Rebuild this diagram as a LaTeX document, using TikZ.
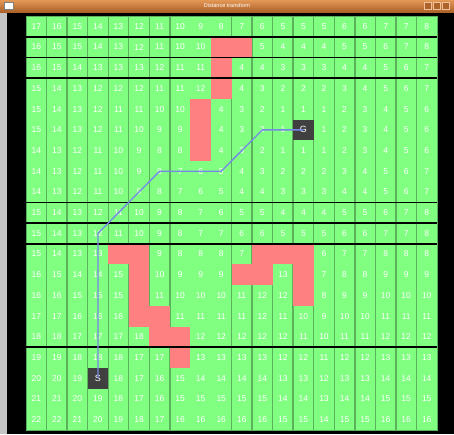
\documentclass[tikz,border=0pt]{standalone}
\usepackage{fontspec}
\setmainfont{Liberation Sans}
\definecolor{cellgreen}{RGB}{128,255,128}
\definecolor{linegreen}{RGB}{92,178,92}
\definecolor{cellred}{RGB}{255,128,128}
\definecolor{celldark}{RGB}{64,64,64}
\definecolor{pathblue}{RGB}{118,136,232}
\definecolor{bartop}{RGB}{228,152,86}
\definecolor{barbot}{RGB}{172,98,40}
\definecolor{framegray}{RGB}{196,196,196}
\tikzset{
  num/.style={text=white, font=\fontsize{8.5}{9}\selectfont, inner sep=0pt},
  vline/.style={draw=linegreen, line width=1.4pt},
  hline/.style={draw=black, line width=1.6pt},
  markcell/.style={fill=celldark, text=white, font=\fontsize{9}{9}\selectfont,
    minimum width=20.55pt, minimum height=20.7pt, inner sep=0pt},
  route/.style={draw=pathblue, line width=1.3pt, line join=round},
  winbtn/.style={fill=barbot, draw=bartop!60!white, line width=0.5pt,
    minimum width=7pt, minimum height=7pt, inner sep=0pt},
  titletext/.style={text=white, font=\fontsize{5.5}{6}\selectfont, inner sep=0pt}
}
\begin{document}
\begin{tikzpicture}[x=1pt,y=-1pt]
\useasboundingbox (0,0) rectangle (454,434);
\fill[black] (0,0) rectangle (454,434);
\fill[framegray] (0,12) rectangle (7,434);
\shade[top color=bartop, bottom color=barbot] (0,0) rectangle (454,12);
\node[fill=white, draw=gray, minimum width=9pt, minimum height=7pt, inner sep=0pt] (icon) at (9,6) {};
\node[titletext] (title) at (227,6) {Distance transform};
\node[winbtn] (bmin) at (428,6) {};
\node[winbtn] (bmax) at (437,6) {};
\node[winbtn] (bclose) at (446,6) {};
% grid background
\fill[cellgreen] (26,16) rectangle (437,430);
\foreach \k in {1,2,3,4,5,6,7,10,11,12,13,14,15,16,17,18,19}
  \draw[vline] ({26+20.55*\k},16) -- ({26+20.55*\k},430);
\draw[linegreen, line width=1pt] (26,16) rectangle (437,430);
% obstacles
\foreach \c/\r in {9/1,10/1,9/2,9/3,8/4,8/5,8/6,4/11,5/11,5/12,5/13,5/14,6/14,6/15,7/15,7/16,11/11,12/11,13/11,10/12,11/12,13/12,13/13}
  \fill[cellred] ({26+20.55*\c},{16+20.7*\r}) rectangle ++(20.55,20.7);
% distance values
\foreach \row [count=\r from 0] in {
 {17,16,15,14,13,12,11,10,9,8,7,6,5,5,5,6,6,7,7,8},
 {16,15,15,14,13,12,11,10,10,~,~,5,4,4,4,5,5,6,7,8},
 {16,15,14,13,13,13,12,11,11,~,4,4,3,3,3,4,4,5,6,7},
 {15,14,13,12,12,12,11,11,12,~,4,3,2,2,2,3,4,5,6,7},
 {15,14,13,12,11,11,10,10,~,4,3,2,1,1,1,2,3,4,5,6},
 {15,14,13,12,11,10,9,9,~,4,3,2,1,~,1,2,3,4,5,6},
 {14,13,12,11,10,9,8,8,~,4,3,2,1,1,1,2,3,4,5,6},
 {14,13,12,11,10,9,8,7,6,5,4,3,2,2,2,3,4,5,6,7},
 {14,13,12,11,10,9,8,7,6,5,4,4,3,3,3,4,4,5,6,7},
 {15,14,13,12,11,10,9,8,7,6,5,5,4,4,4,5,5,6,7,8},
 {15,14,13,12,11,10,9,8,7,7,6,6,5,5,5,6,6,7,7,8},
 {15,14,13,13,~,~,9,8,8,8,7,~,~,~,6,7,7,8,8,8},
 {16,15,14,14,15,~,10,9,9,9,~,~,13,~,7,8,8,9,9,9},
 {16,16,15,15,15,~,11,10,10,10,11,12,12,~,8,9,9,10,10,10},
 {17,17,16,16,16,~,~,11,11,11,11,12,11,10,9,10,10,11,11,11},
 {18,18,17,17,17,18,~,~,12,12,12,12,12,11,10,11,11,12,12,12},
 {19,19,18,18,18,17,17,~,13,13,13,13,12,12,11,12,12,13,13,13},
 {20,20,19,~,18,17,16,15,14,14,14,14,13,13,12,13,13,14,14,14},
 {21,21,20,19,18,17,16,15,15,15,15,15,14,14,13,14,14,15,15,15},
 {22,22,21,20,19,18,17,16,16,16,16,16,15,15,14,15,15,16,16,16}}
{
  \foreach \v [count=\c from 0] in \row {
    \node[num] (n-\c-\r) at ({26+20.55*(\c+0.5)},{16+20.7*(\r+0.5)}) {\v};
  }
}
% start and goal
\node[markcell] (S) at ({26+20.55*3.5},{16+20.7*17.5}) {S};
\node[markcell] (G) at ({26+20.55*13.5},{16+20.7*5.5}) {G};
% separating rows
\foreach \k in {1,2,3,9,10,11,16}
  \draw[hline] (26,{16+20.7*\k}) -- (437,{16+20.7*\k});
% path
\coordinate (p1) at ({26+20.55*3.5},{16+20.7*10.5});
\coordinate (p2) at ({26+20.55*6.5},{16+20.7*7.5});
\coordinate (p3) at ({26+20.55*9.5},{16+20.7*7.5});
\coordinate (p4) at ({26+20.55*11.5},{16+20.7*5.5});
\draw[route] (S.center) -- (p1) -- (p2) -- (p3) -- (p4) -- (G.center);
\end{tikzpicture}
\end{document}
